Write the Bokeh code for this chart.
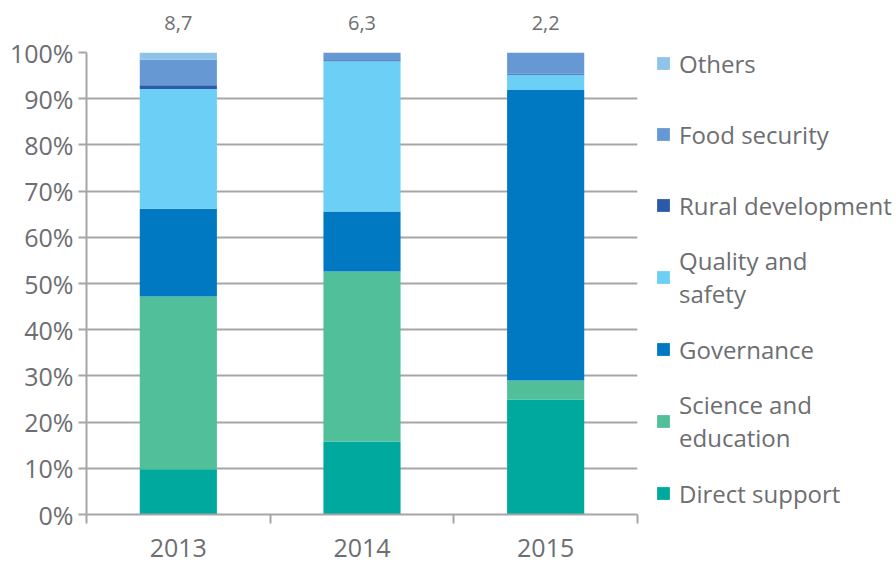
from bokeh.plotting import figure
from bokeh.models import (ColumnDataSource, FixedTicker, Legend, LegendItem,
                          Range1d, NumeralTickFormatter, LinearAxis)
from bokeh.embed import file_html
from bokeh.resources import INLINE

years = ["2013", "2014", "2015"]
totals = ["8,7", "6,3", "2,2"]
direct_support = [9.8, 15.8, 24.9]
science_education = [37.4, 36.8, 4.1]
governance = [19.0, 13.0, 62.9]
quality_safety = [25.9, 32.5, 3.3]
rural_development = [0.8, 0.2, 0.2]
food_security = [5.6, 1.7, 4.6]
others = [1.5, 0.0, 0.0]

series = ["direct", "science", "gov", "quality", "rural", "food", "others"]
labels = ["Direct support", "Science and\neducation", "Governance",
          "Quality and\nsafety", "Rural development", "Food security", "Others"]
colors = ["#00A99D", "#52BF9B", "#0079C2", "#6CCFF6", "#2A5AA8", "#6699D3", "#8EC3EA"]
values = [direct_support, science_education, governance, quality_safety,
          rural_development, food_security, others]

FONT = "Open Sans"
GRAY = "#6D6E71"
LINE = "#A6A6A6"

xs = [i + 0.5 for i in range(len(years))]
data = {"x": xs}
for key, vals in zip(series, values):
    data[key] = [v / 100.0 for v in vals]
src = ColumnDataSource(data)

p = figure(frame_width=551, frame_height=462, x_range=Range1d(0, 3),
           y_range=Range1d(0, 1), output_backend="svg", toolbar_location=None,
           min_border_left=86, min_border_top=52, min_border_bottom=50,
           min_border_right=0)
p.outline_line_color = None

rs = p.vbar_stack(series, x="x", width=0.42, color=colors, source=src,
                  line_color=None)

# grid
p.xgrid.grid_line_color = None
p.ygrid.grid_line_color = LINE
p.ygrid.grid_line_width = 2
p.ygrid.ticker = FixedTicker(ticks=[i / 10 for i in range(11)])

# y axis
p.yaxis.ticker = FixedTicker(ticks=[i / 10 for i in range(11)])
p.yaxis.formatter = NumeralTickFormatter(format="0%")
p.yaxis.axis_line_color = LINE
p.yaxis.axis_line_width = 2
p.yaxis.major_tick_line_color = LINE
p.yaxis.major_tick_line_width = 2
p.yaxis.major_tick_out = 8
p.yaxis.major_tick_in = 0
p.yaxis.minor_tick_line_color = None
p.yaxis.major_label_text_font = FONT
p.yaxis.major_label_text_font_size = "25px"
p.yaxis.major_label_text_color = GRAY
p.yaxis.major_label_standoff = 5

# x axis
p.xaxis.ticker = FixedTicker(ticks=xs, minor_ticks=list(range(len(years) + 1)))
p.xaxis.major_label_overrides = {x: y for x, y in zip(xs, years)}
p.xaxis.axis_line_color = LINE
p.xaxis.axis_line_width = 2
p.xaxis.major_tick_line_color = None
p.xaxis.major_tick_out = 0
p.xaxis.major_tick_in = 0
p.xaxis.minor_tick_line_color = LINE
p.xaxis.minor_tick_line_width = 2
p.xaxis.minor_tick_out = 9
p.xaxis.minor_tick_in = 0
p.xaxis.major_label_text_font = FONT
p.xaxis.major_label_text_font_size = "25px"
p.xaxis.major_label_text_color = GRAY
p.xaxis.major_label_standoff = 15

# totals above the bars
top_axis = LinearAxis(ticker=FixedTicker(ticks=xs),
                      major_label_overrides={x: t for x, t in zip(xs, totals)},
                      axis_line_color=None, major_tick_line_color=None,
                      minor_tick_line_color=None,
                      major_label_text_font=FONT,
                      major_label_text_font_size="20px",
                      major_label_text_color=GRAY,
                      major_label_standoff=17)
p.add_layout(top_axis, "above")

items = [LegendItem(label=l, renderers=[r]) for l, r in zip(labels, rs)][::-1]
legend = Legend(items=items, location=(18, -11), orientation="vertical",
                glyph_width=16, glyph_height=16, label_standoff=8,
                label_height=64, spacing=7, padding=0, margin=0,
                label_text_font=FONT, label_text_font_size="24px",
                label_text_line_height=1.0,
                label_text_color=GRAY, border_line_color=None,
                background_fill_alpha=0)
p.add_layout(legend, "right")

open("out.html", "w").write(file_html(p, INLINE))
